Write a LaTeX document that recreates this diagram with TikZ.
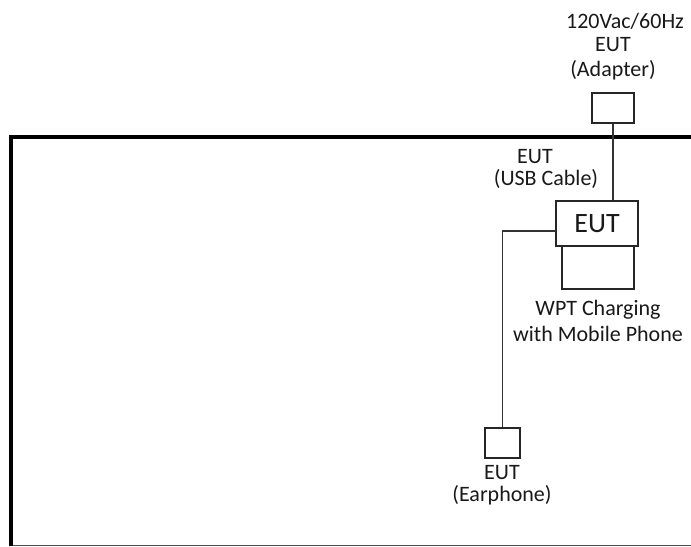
\documentclass[tikz,border=0pt]{standalone}
\usepackage{fontspec}
\setmainfont{Carlito}
\tikzset{
  unit box/.style={
    rectangle, draw=black!85, line width=1.1pt, fill=white, inner sep=0pt
  },
  cable/.style={
    draw=black!80, line width=0.8pt
  },
  label text/.style={
    inner sep=0pt, text=black!90, align=center,
    font=\fontsize{16.5}{17}\selectfont
  }
}

\begin{document}
\begin{tikzpicture}[x=0.75pt, y=-0.75pt]
  \useasboundingbox (0,0) rectangle (691,546);

  % ------------------------------------------------
  % table outline
  % ------------------------------------------------
  \draw[black!70, line width=0.6pt] (10,545.5) -- (691,545.5);
  \draw[black, line width=3pt] (10.5,546) -- (10.5,136.5) -- (692,136.5);

  % ------------------------------------------------
  % boxes
  % ------------------------------------------------
  \node[unit box, minimum width=31.5pt, minimum height=22.5pt]   (adapter)   at (613,108) {};
  \node[unit box, minimum width=54pt,   minimum height=32.25pt]  (phone)     at (598,267.5) {};
  \node[unit box, minimum width=61.5pt, minimum height=33.75pt,
        font=\fontsize{21}{21}\selectfont, text=black!90]        (eut)       at (597,223.5) {EUT};
  \node[unit box, minimum width=26.25pt, minimum height=22.5pt]  (earphone)  at (502.5,443) {};

  % ------------------------------------------------
  % cables
  % ------------------------------------------------
  \coordinate (earTap) at (556,231);
  \draw[cable] (adapter.south) -- (adapter.south |- eut.north);
  \draw[cable] (earTap) -| (earphone.north);

  % ------------------------------------------------
  % labels
  % ------------------------------------------------
  \node[label text] (mainsTxt)   at (625,21)  {120Vac/60Hz};
  \node[label text] (adapterEUT) at (613,45)  {EUT};
  \node[label text] (adapterTxt) at (613,70)  {(Adapter)};
  \node[label text] (usbEUT)     at (535,157) {EUT};
  \node[label text] (usbTxt)     at (546,179) {(USB Cable)};
  \node[label text] (phoneTxt)   at (598,321) {WPT Charging\\[2pt]with Mobile Phone};
  \node[label text] (earEUT)     at (502,473) {EUT};
  \node[label text] (earTxt)     at (502,495) {(Earphone)};
\end{tikzpicture}
\end{document}
